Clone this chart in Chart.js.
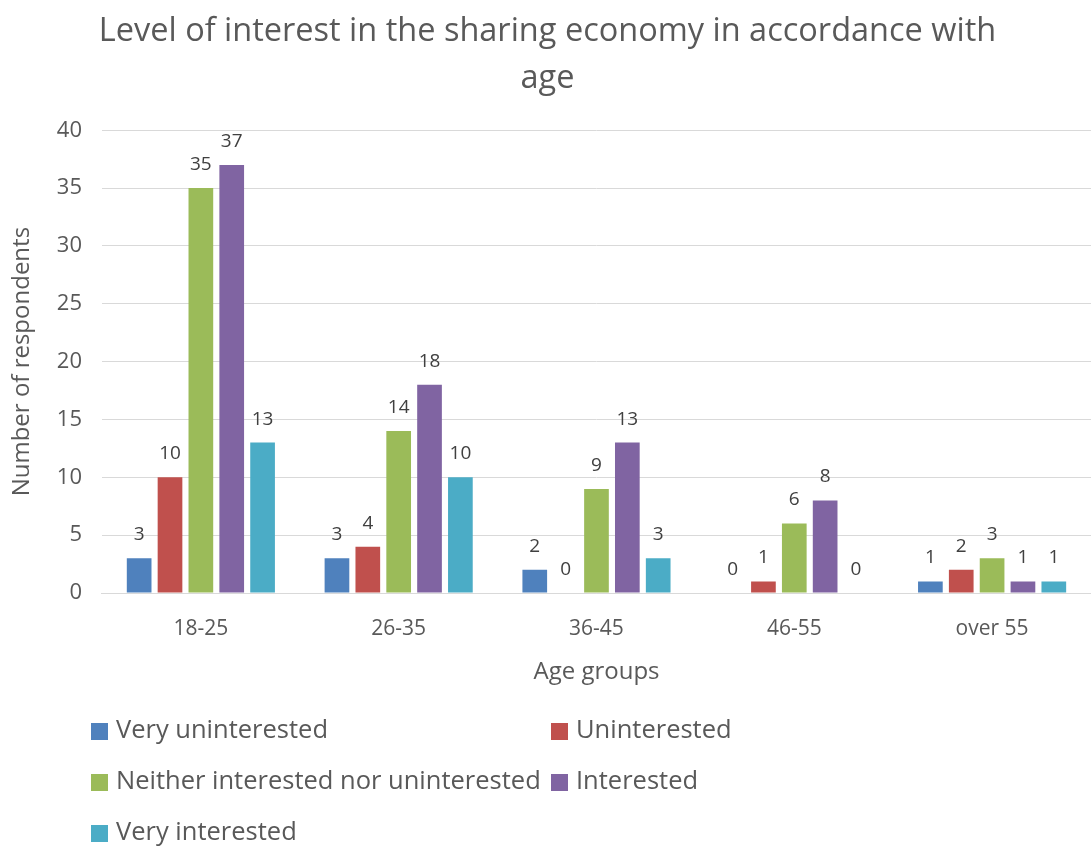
<!DOCTYPE html>
<html>
<head>
<meta charset="utf-8">
<script src="https://cdn.jsdelivr.net/npm/chart.js@4/dist/chart.umd.min.js"></script>
<style>
  body { margin: 0; background: #fff; }
  #wrap { width: 1091px; height: 849px; }
</style>
</head>
<body>
<div id="wrap"><canvas id="grafico" width="1091" height="849"></canvas></div>
<script>
const categories = ["18-25", "26-35", "36-45", "46-55", "over 55"];
const seriesNames = ["Very uninterested", "Uninterested", "Neither interested nor uninterested", "Interested", "Very interested"];
const veryUninterested = [3, 3, 2, 0, 1];
const uninterested = [10, 4, 0, 1, 2];
const neither = [35, 14, 9, 6, 3];
const interested = [37, 18, 13, 8, 1];
const veryInterested = [13, 10, 3, 0, 1];
const colors = ["#4F81BD", "#C0504D", "#9BBB59", "#8064A2", "#4BACC6"];
const yMin = 0, yMax = 40, yStep = 5;

const FONT = "'Open Sans', 'Noto Sans', sans-serif";
const textColor = "#595959";

// value labels above each bar
const etichetteValori = {
  id: "etichetteValori",
  afterDatasetsDraw(chart) {
    const ctx = chart.ctx;
    ctx.save();
    ctx.font = "19px " + FONT;
    ctx.fillStyle = "#404040";
    ctx.textAlign = "center";
    ctx.textBaseline = "bottom";
    chart.data.datasets.forEach((ds, i) => {
      chart.getDatasetMeta(i).data.forEach((bar, j) => {
        ctx.fillText(ds.data[j], bar.x, bar.y - 14);
      });
    });
    ctx.restore();
  }
};

// two-column legend like the Excel one
const legendaColonne = {
  id: "legendaColonne",
  afterDraw(chart) {
    const ctx = chart.ctx;
    ctx.save();
    ctx.font = "25.5px " + FONT;
    ctx.textBaseline = "middle";
    ctx.textAlign = "left";
    const colX = [91, 551];
    const rowY = [731, 782, 833];
    chart.data.datasets.forEach((ds, i) => {
      const x = colX[i % 2];
      const y = rowY[Math.floor(i / 2)];
      ctx.fillStyle = ds.backgroundColor;
      ctx.fillRect(x, y - 8, 17, 17);
      ctx.fillStyle = textColor;
      ctx.fillText(ds.label, x + 25, y);
    });
    ctx.restore();
  }
};

const serie = [veryUninterested, uninterested, neither, interested, veryInterested];

new Chart(document.getElementById("grafico"), {
  type: "bar",
  data: {
    labels: categories,
    datasets: serie.map((d, i) => ({
      label: seriesNames[i],
      data: d,
      backgroundColor: colors[i],
      borderWidth: 0,
      categoryPercentage: 0.78,
      barPercentage: 0.8
    }))
  },
  options: {
    responsive: false,
    animation: false,
    layout: { padding: { left: 4, right: 0, top: 0, bottom: 158 } },
    plugins: {
      legend: { display: false },
      tooltip: { enabled: false },
      title: {
        display: true,
        text: ["Level of interest in the sharing economy in accordance with", "age"],
        color: textColor,
        font: { family: FONT, size: 32.5, weight: "normal", lineHeight: 1.45 },
        padding: { top: 8, bottom: 28 }
      }
    },
    scales: {
      x: {
        grid: { display: false, drawTicks: false },
        border: { color: "#D9D9D9" },
        ticks: { color: textColor, font: { family: FONT, size: 21 }, padding: 23 },
        title: {
          display: true, text: "Age groups", color: textColor,
          font: { family: FONT, size: 24 }, padding: { top: -6 }
        }
      },
      y: {
        min: yMin, max: yMax,
        grid: { color: "#D9D9D9", drawTicks: false },
        border: { display: false },
        ticks: { stepSize: yStep, color: textColor, font: { family: FONT, size: 22 }, padding: 20 },
        title: {
          display: true, text: "Number of respondents", color: textColor,
          font: { family: FONT, size: 24 }, padding: { bottom: 0 }
        }
      }
    }
  },
  plugins: [etichetteValori, legendaColonne]
});
</script>
</body>
</html>
